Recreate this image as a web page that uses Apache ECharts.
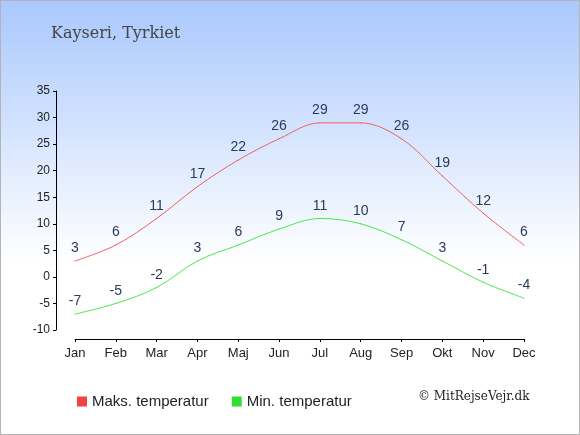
<!DOCTYPE html>
<html>
<head>
<meta charset="utf-8">
<script src="https://cdn.jsdelivr.net/npm/echarts@6/dist/echarts.min.js"></script>
<style>
  html, body { margin: 0; padding: 0; }
  #chart { width: 580px; height: 435px; box-sizing: border-box; border: 1px solid #b4b4b4; }
</style>
</head>
<body>
<div id="chart"></div>
<script>
var months = ['Jan', 'Feb', 'Mar', 'Apr', 'Maj', 'Jun', 'Jul', 'Aug', 'Sep', 'Okt', 'Nov', 'Dec'];
var maxTemp = [3, 6, 11, 17, 22, 26, 29, 29, 26, 19, 12, 6];
var minTemp = [-7, -5, -2, 3, 6, 9, 11, 10, 7, 3, -1, -4];

var myChart = echarts.init(document.getElementById('chart'));

var labelStyle = {
    show: true,
    position: 'top',
    distance: 5,
    color: '#2b3a58',
    fontSize: 14,
    fontFamily: 'Liberation Sans, Arial, sans-serif'
};

var option = {
    backgroundColor: new echarts.graphic.LinearGradient(0, 0, 0, 1, [
        {offset: 0, color: '#a9c8fd'},
        {offset: 0.6, color: '#ffffff'},
        {offset: 1, color: '#ffffff'}
    ]),
    animation: false,
    title: {
        text: 'Kayseri, Tyrkiet',
        left: 45,
        top: 20,
        textStyle: {
            fontFamily: 'DejaVu Serif, serif',
            fontWeight: 'normal',
            fontSize: 16,
            color: '#444444'
        }
    },
    legend: {
        left: 71,
        top: 388,
        icon: 'rect',
        itemWidth: 10,
        itemHeight: 10,
        itemGap: 23,
        textStyle: {
            fontSize: 15,
            color: '#222222',
            fontFamily: 'Liberation Sans, Arial, sans-serif'
        },
        data: ['Maks. temperatur', 'Min. temperatur']
    },
    grid: {
        left: 74,
        right: 55,
        top: 90,
        bottom: 104
    },
    xAxis: {
        type: 'category',
        data: months,
        boundaryGap: false,
        offset: 9,
        axisLine: {onZero: false, lineStyle: {color: '#000000'}},
        axisTick: {length: 3, lineStyle: {color: '#000000'}},
        axisLabel: {
            color: '#222222',
            fontSize: 13,
            margin: 8,
            fontFamily: 'Liberation Sans, Arial, sans-serif'
        }
    },
    yAxis: {
        type: 'value',
        min: -10,
        max: 35,
        interval: 5,
        offset: 19,
        axisLine: {show: true, lineStyle: {color: '#000000'}},
        axisTick: {show: true, length: 3, lineStyle: {color: '#000000'}},
        splitLine: {show: false},
        axisLabel: {
            color: '#222222',
            fontSize: 12,
            margin: 6,
            fontFamily: 'Liberation Sans, Arial, sans-serif'
        }
    },
    series: [
        {
            name: 'Maks. temperatur',
            type: 'line',
            data: maxTemp,
            smooth: 0.35,
            symbol: 'circle',
            symbolSize: 1,
            itemStyle: {color: '#ee4444'},
            lineStyle: {color: '#f06262', width: 1},
            label: labelStyle
        },
        {
            name: 'Min. temperatur',
            type: 'line',
            data: minTemp,
            smooth: 0.35,
            symbol: 'circle',
            symbolSize: 1,
            itemStyle: {color: '#33dd33'},
            lineStyle: {color: '#4ce84c', width: 1},
            label: labelStyle
        }
    ],
    graphic: [
        {
            type: 'text',
            left: 417,
            top: 390,
            style: {
                text: '\u00a9 MitRejseVejr.dk',
                fill: '#222222',
                font: '12px "DejaVu Serif", serif'
            }
        }
    ]
};

myChart.setOption(option);
</script>
</body>
</html>
